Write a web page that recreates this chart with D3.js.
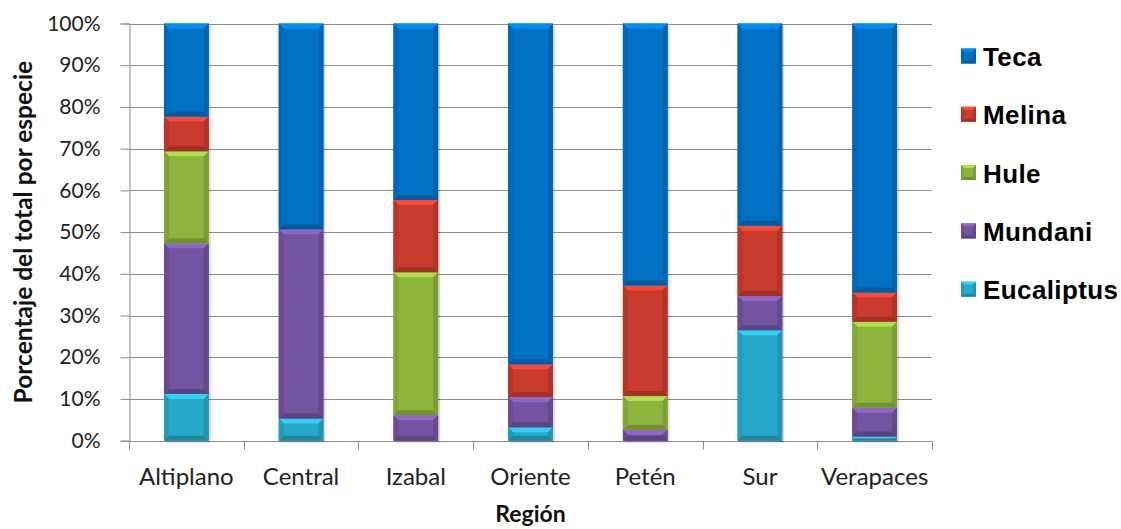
<!DOCTYPE html>
<html>
<head>
<meta charset="utf-8">
<script src="https://cdn.jsdelivr.net/npm/d3@7"></script>
<style>
  body { margin: 0; background: #fff; }
  svg { display: block; }
</style>
</head>
<body>
<svg id="chart" width="1121" height="529"></svg>
<script>
const w = 1121, h = 529;
const margin = {top: 23.5, right: 189, bottom: 88.3, left: 129};

// data (percent of total per species)
const regions = ["Altiplano", "Central", "Izabal", "Oriente", "Petén", "Sur", "Verapaces"];
const species = ["Eucaliptus", "Mundani", "Hule", "Melina", "Teca"];
const eucaliptus = [11.2, 5.3, 0, 3.2, 0, 26.5, 1.0];
const mundani    = [36.1, 45.4, 6.1, 7.3, 2.6, 8.2, 6.9];
const hule       = [22.1, 0, 34.3, 0, 8.1, 0, 20.6];
const melina     = [8.3, 0, 17.3, 7.8, 26.5, 16.8, 7.0];
const teca       = [22.3, 49.3, 42.3, 81.7, 62.8, 48.5, 64.5];
const yTicks = [0, 10, 20, 30, 40, 50, 60, 70, 80, 90, 100];

const colors = {
  Eucaliptus: "#27a9c9",
  Mundani: "#7453a0",
  Hule: "#8db43c",
  Melina: "#c83b2e",
  Teca: "#0072c6"
};

const series = {Eucaliptus: eucaliptus, Mundani: mundani, Hule: hule, Melina: melina, Teca: teca};
const table = regions.map((r, i) => {
  const row = {region: r};
  species.forEach(s => row[s] = series[s][i]);
  return row;
});

const stack = d3.stack().keys(species).offset(d3.stackOffsetExpand);
const stacked = stack(table);

const svg = d3.select("#chart");
const iw = w - margin.left - margin.right;
const ih = h - margin.top - margin.bottom;
const labelFont = "Lato, 'Open Sans', sans-serif";

const x = d3.scaleBand().domain(regions).range([margin.left, margin.left + iw])
  .paddingInner(0.61).paddingOuter(0.305);
const y = d3.scaleLinear().domain([0, 1]).range([margin.top + ih, margin.top]);

//gridlines
svg.append("g")
  .selectAll("line")
  .data(yTicks)
  .enter().append("line")
    .attr("x1", margin.left).attr("x2", margin.left + iw)
    .attr("y1", d => Math.round(y(d / 100)) + 0.5)
    .attr("y2", d => Math.round(y(d / 100)) + 0.5)
    .style("stroke", "#8c8c8c").style("stroke-width", 1);

//y axis
const yAxis = svg.append("g")
  .attr("transform", "translate(" + (margin.left + 0.5) + ",0)")
  .call(d3.axisLeft(y).tickValues(yTicks.map(d => d / 100)).tickFormat(d3.format(".0%")).tickSizeOuter(0).tickSize(9).tickPadding(20));
yAxis.select(".domain").style("stroke", "#8c8c8c");
yAxis.selectAll(".tick line").style("stroke", "#8c8c8c");
yAxis.selectAll("text")
  .style("font-family", labelFont)
  .style("font-size", "21px").style("fill", "#222");

//x axis
const xAxis = svg.append("g")
  .attr("transform", "translate(0," + (Math.round(y(0)) + 0.5) + ")");
xAxis.append("line")
  .attr("x1", margin.left).attr("x2", margin.left + iw)
  .style("stroke", "#8c8c8c");
xAxis.selectAll(".xtick")
  .data(d3.range(regions.length + 1))
  .enter().append("line")
    .attr("x1", i => Math.round(margin.left + i * x.step()) + 0.5)
    .attr("x2", i => Math.round(margin.left + i * x.step()) + 0.5)
    .attr("y1", 0).attr("y2", 8)
    .style("stroke", "#8c8c8c");
xAxis.selectAll(".xlabel")
  .data(regions)
  .enter().append("text")
    .attr("x", d => x(d) + x.bandwidth() / 2)
    .attr("y", 43)
    .attr("text-anchor", "middle")
    .style("font-family", labelFont)
    .style("font-size", "24px").style("fill", "#222")
    .text(d => d);

//axis titles
svg.append("text")
  .attr("transform", "translate(32," + (margin.top + ih / 2) + ") rotate(-90)")
  .attr("text-anchor", "middle")
  .style("font-family", labelFont)
  .style("font-size", "24.5px").style("font-weight", "bold").style("fill", "#111")
  .text("Porcentaje del total por especie");
svg.append("text")
  .attr("x", margin.left + iw / 2).attr("y", 522)
  .attr("text-anchor", "middle")
  .style("font-family", labelFont)
  .style("font-size", "23px").style("font-weight", "bold").style("fill", "#111")
  .text("Región");

//bevelled bar segments
function bevel(g, x0, x1, y0, y1, col, e) {
  const c = d3.color(col);
  const hgt = y1 - y0;
  const b = Math.min(e, hgt / 2, (x1 - x0) / 2);
  g.append("rect").attr("x", x0).attr("y", y0).attr("width", x1 - x0).attr("height", hgt).style("fill", col);
  if (b <= 0.3) return;
  g.append("polygon").attr("points", [[x0, y0], [x1, y0], [x1 - b, y0 + b], [x0 + b, y0 + b]].join(" "))
    .style("fill", c.brighter(0.6));
  g.append("polygon").attr("points", [[x0, y1], [x1, y1], [x1 - b, y1 - b], [x0 + b, y1 - b]].join(" "))
    .style("fill", c.darker(0.6));
  g.append("polygon").attr("points", [[x0, y0], [x0 + b, y0 + b], [x0 + b, y1 - b], [x0, y1]].join(" "))
    .style("fill", c.darker(0.25));
  g.append("polygon").attr("points", [[x1, y0], [x1 - b, y0 + b], [x1 - b, y1 - b], [x1, y1]].join(" "))
    .style("fill", c.darker(0.35));
}

const bars = svg.append("g");
//soft shadow
bars.selectAll(".shadow")
  .data(regions)
  .enter().append("rect")
    .attr("x", d => x(d) + 2).attr("y", y(1) + 2)
    .attr("width", x.bandwidth()).attr("height", y(0) - y(1))
    .style("fill", "#000").style("opacity", 0.15);

stacked.forEach(layer => {
  const key = layer.key;
  layer.forEach((seg, i) => {
    if (seg[1] - seg[0] <= 0) return;
    const g = bars.append("g");
    bevel(g, x(regions[i]), x(regions[i]) + x.bandwidth(), y(seg[1]), y(seg[0]), colors[key], 5);
  });
});

//legend
const legend = svg.append("g").attr("id", "legend");
const legendOrder = species.slice().reverse();
const item = legend.selectAll(".legend-item")
  .data(legendOrder)
  .enter().append("g")
    .attr("transform", (d, i) => "translate(961," + (56 + i * 58.3) + ")");
item.each(function(d) {
  bevel(d3.select(this), 0, 15, -7.5, 7.5, colors[d], 3);
});
item.append("text")
  .attr("x", 22).attr("y", 10)
  .style("font-family", "'Liberation Sans', Arial, sans-serif")
  .style("font-size", "26px").style("font-weight", "bold").style("fill", "#000")
  .style("letter-spacing", "0.4px")
  .text(d => d);
</script>
</body>
</html>
